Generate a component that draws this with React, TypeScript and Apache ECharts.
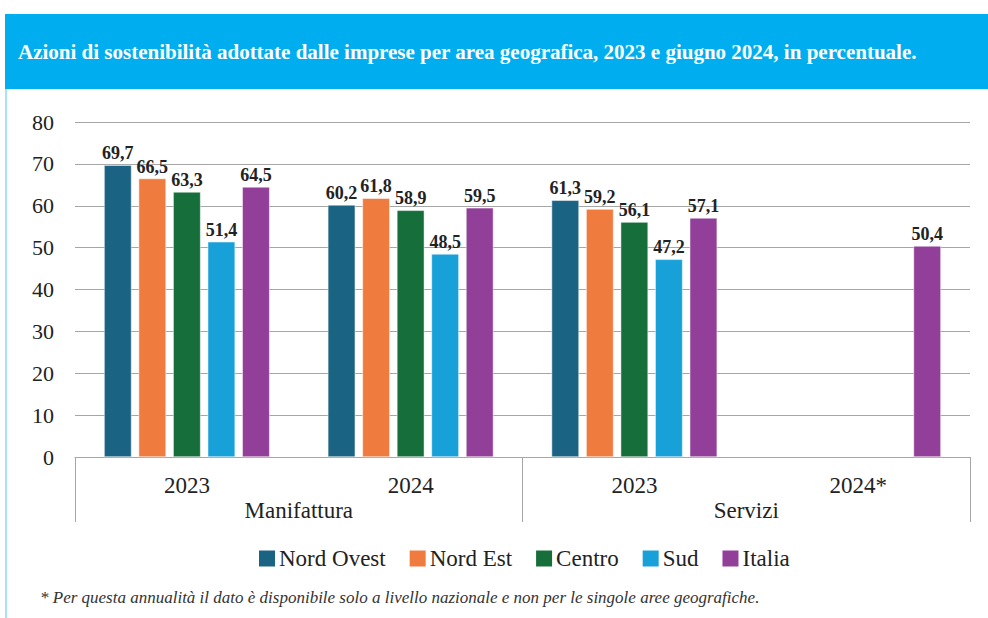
import React, { useEffect, useRef } from "react";
import * as echarts from "echarts";

const years = ["2023", "2024", "2023", "2024*"];
const sectors = ["Manifattura", "Servizi"];
const seriesNames = ["Nord Ovest", "Nord Est", "Centro", "Sud", "Italia"];
const nordOvest = [69.7, 60.2, 61.3, null];
const nordEst = [66.5, 61.8, 59.2, null];
const centro = [63.3, 58.9, 56.1, null];
const sud = [51.4, 48.5, 47.2, null];
const italia = [64.5, 59.5, 57.1, 50.4];
const yTicks = { min: 0, max: 80, interval: 10 };
const colors = ["#1B6383", "#F07B3F", "#166E3A", "#18A1D8", "#913F98"];

const titleText =
  "Azioni di sostenibilità adottate dalle imprese per area geografica, 2023 e giugno 2024, in percentuale.";
const footnote =
  "* Per questa annualità il dato è disponibile solo a livello nazionale e non per le singole aree geografiche.";

const SERIF = "'Liberation Serif', 'DejaVu Serif', serif";

export default function App() {
  const ref = useRef<HTMLDivElement>(null);
  useEffect(() => {
    if (!ref.current) return;
    const chart = echarts.init(ref.current, null, { renderer: "svg" });
    const values = [nordOvest, nordEst, centro, sud, italia];
    chart.setOption({
      animation: false,
      backgroundColor: "#ffffff",
      graphic: [
        { type: "rect", shape: { x: 5, y: 14, width: 990, height: 75 }, style: { fill: "#00AEEF" } },
        { type: "line", shape: { x1: 6, y1: 89, x2: 6, y2: 618 }, style: { stroke: "#8AD8F7", lineWidth: 1.5 } },
        {
          type: "text",
          left: 18,
          top: 41,
          style: { text: titleText, fill: "#ffffff", font: `bold 21px ${SERIF}` },
        },
        {
          type: "text",
          left: 40,
          top: 589,
          style: { text: footnote, fill: "#333333", font: `italic 17px ${SERIF}` },
        },
      ],
      legend: {
        data: seriesNames,
        top: 542,
        left: 252,
        itemWidth: 18,
        itemHeight: 18,
        itemGap: 22,
        icon: "rect",
        textStyle: { fontFamily: SERIF, fontSize: 23, color: "#222", padding: [0, 0, 0, -2] },
      },
      grid: { left: 75, right: 18, top: 122, bottom: 161 },
      xAxis: [
        {
          type: "category",
          data: years,
          position: "bottom",
          axisLine: { lineStyle: { color: "#A6A6A6", width: 1 } },
          axisTick: { show: false },
          axisLabel: { fontFamily: SERIF, fontSize: 23, color: "#222", margin: 17 },
        },
        {
          type: "category",
          data: sectors,
          position: "bottom",
          axisLine: { show: false },
          axisTick: { show: true, length: 65, interval: 0, lineStyle: { color: "#A6A6A6" } },
          axisLabel: { fontFamily: SERIF, fontSize: 23, color: "#222", margin: 42 },
        },
      ],
      yAxis: {
        type: "value",
        min: yTicks.min,
        max: yTicks.max,
        interval: yTicks.interval,
        axisLine: { show: false },
        axisTick: { show: false },
        axisLabel: { fontFamily: SERIF, fontSize: 22, color: "#222", margin: 21 },
        splitLine: { lineStyle: { color: "#A6A6A6", width: 1 } },
      },
      series: seriesNames.map((name, i) => ({
        name,
        type: "bar",
        xAxisIndex: 0,
        data: values[i],
        barGap: "26%",
        barCategoryGap: "26%",
        itemStyle: { color: colors[i], borderColor: "#ffffff", borderWidth: 0.5 },
        label: {
          show: true,
          position: "top",
          distance: 3,
          fontFamily: SERIF,
          fontWeight: "bold",
          fontSize: 18,
          color: "#222",
          formatter: (p: any) => (p.value == null ? "" : String(p.value).replace(".", ",")),
        },
      })),
    });
    return () => chart.dispose();
  }, []);
  return <div ref={ref} style={{ position: "absolute", left: 0, top: 0, width: 988, height: 618 }} />;
}
